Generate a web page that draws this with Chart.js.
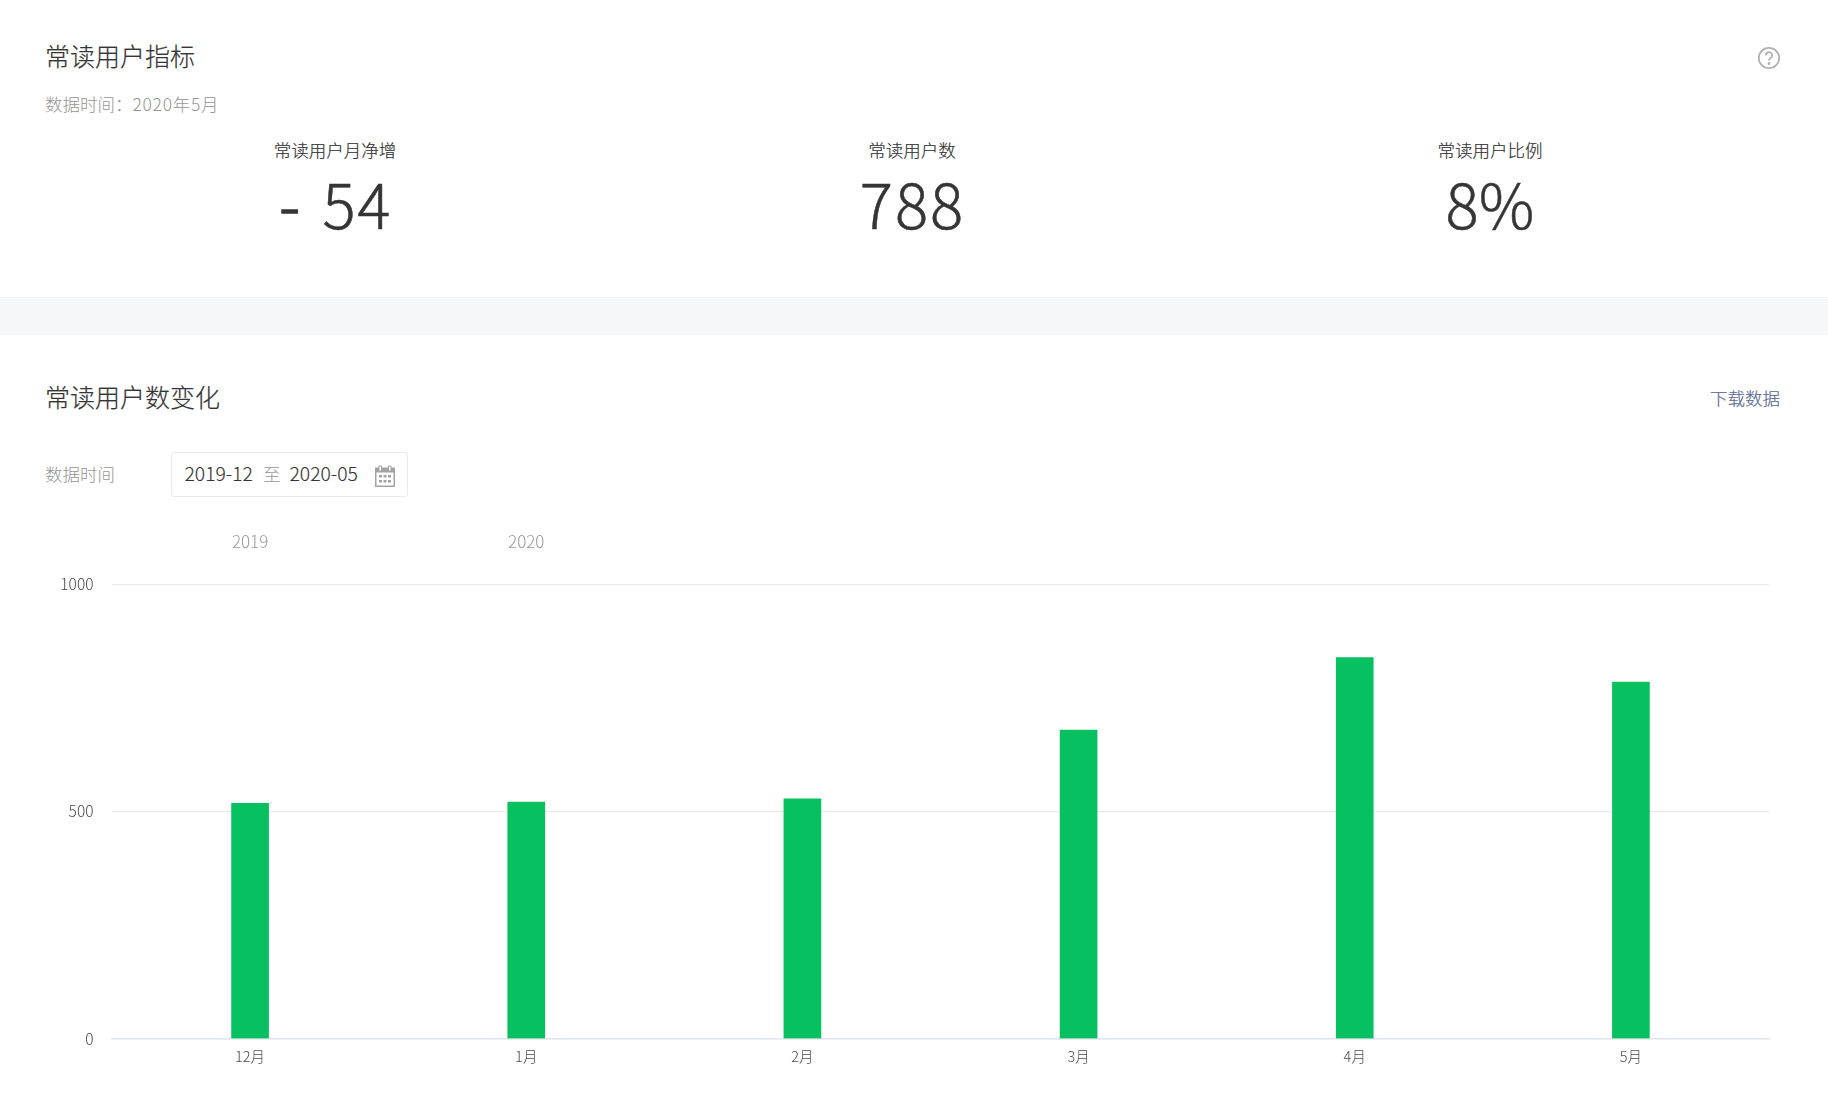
<!DOCTYPE html>
<html lang="zh-CN">
<head>
<meta charset="utf-8">
<title>常读用户指标</title>
<script src="https://cdn.jsdelivr.net/npm/chart.js@4"></script>
<style>
html,body{margin:0;padding:0;background:#fff;width:1828px;height:1112px;overflow:hidden}
body{position:relative;font-family:"Noto Sans CJK SC","Noto Sans",sans-serif;font-weight:300;color:#353535}
.t{position:absolute;white-space:nowrap;line-height:1}
.c{transform:translateX(-50%)}
.title{font-size:25px;color:#353535;-webkit-text-stroke:.2px #353535}
.sub{font-size:17.5px;color:#959595}
.lab{font-size:17.5px;color:#353535;-webkit-text-stroke:.2px #353535}
.num{font-size:62px;color:#353535;-webkit-text-stroke:.5px #353535}
#band{position:absolute;left:0;right:0;top:297px;height:38px;background:#f6f7f9;border-top:1px solid #f1f2f4;box-sizing:border-box}
#date{position:absolute;left:171px;top:452px;width:237px;height:45px;border:1px solid #e9e9e9;border-radius:3px;box-sizing:border-box}
#wrap{position:absolute;left:0;top:520px;width:1828px;height:592px}
svg{position:absolute}
</style>
</head>
<body>
<div class="t title" style="left:45px;top:43px">常读用户指标</div>
<div class="t sub" style="left:45px;top:95px">数据时间：<span style="letter-spacing:.7px">2020年5月</span></div>
<div class="t lab c" style="left:335px;top:141px">常读用户月净增</div>
<div class="t lab c" style="left:912px;top:141px">常读用户数</div>
<div class="t lab c" style="left:1490px;top:141px">常读用户比例</div>
<div class="t num c" style="left:335.5px;top:171px;letter-spacing:1.5px;word-spacing:6px"><span style="-webkit-text-stroke:1.5px #353535">-</span> 54</div>
<div class="t num c" style="left:912.5px;top:171px;letter-spacing:2px">788</div>
<div class="t num c" style="left:1490px;top:171px">8%</div>
<svg style="left:1757px;top:46px" width="24" height="24" viewBox="0 0 24 24" fill="none" stroke="#b0b0b0" stroke-width="1.8"><circle cx="12" cy="12" r="10.2"/><path d="M8.8 9.4a3.2 3.2 0 1 1 4.9 2.7c-1.1.7-1.7 1.3-1.7 2.5"/><circle cx="12" cy="17.4" r=".6" fill="#b0b0b0"/></svg>
<div id="band"></div>
<div class="t title" style="left:45px;top:384px">常读用户数变化</div>
<div class="t" style="right:48px;top:389px;font-size:17.5px;color:#576b95;-webkit-text-stroke:.2px #576b95">下载数据</div>
<div class="t sub" style="left:45px;top:465px">数据时间</div>
<div id="date"></div>
<div class="t" style="left:184.5px;top:464px;font-size:19.3px;color:#353535;-webkit-text-stroke:.15px #353535">2019-12</div>
<div class="t" style="left:263px;top:465px;font-size:17.5px;color:#959595">至</div>
<div class="t" style="left:289.5px;top:464px;font-size:19.3px;color:#353535;-webkit-text-stroke:.15px #353535">2020-05</div>
<svg style="left:375px;top:464px" width="20" height="23" viewBox="0 0 20 23"><path d="M0 3.5h20V23H0z" fill="#a3a3a3"/><path d="M1.5 8.5h17V21.5h-17z" fill="#fff"/><path d="M4 2h2.5v5H4zM13.5 2h2.5v5h-2.5z" fill="#fff" stroke="#a3a3a3" stroke-width="1"/><path d="M4 11h3v2.5H4zM8.5 11h3v2.5h-3zM13 11h3v2.5h-3zM4 16h3v2.5H4zM8.5 16h3v2.5h-3zM13 16h3v2.5h-3z" fill="#a3a3a3"/></svg>
<div id="wrap"><canvas id="chart"></canvas></div>
<script>
const categories = ['12月','1月','2月','3月','4月','5月'];
const yearLabels = ['2019','2020','','','',''];
const values = [518,521,528,679,839,785];
const yTicks = [0,500,1000];
const fam = '"Noto Sans CJK SC","Noto Sans",sans-serif';
const xFont = {family:fam,size:14.5,weight:'300'};
const yFont = {family:fam,size:15.5,weight:'300'};
const yearFont = {family:fam,size:17,weight:'300'};
new Chart(document.getElementById('chart'),{
  type:'bar',
  data:{labels:categories,datasets:[{data:values,backgroundColor:'#07c160',barThickness:37,xAxisID:'x',yAxisID:'y'}]},
  options:{
    responsive:true,maintainAspectRatio:false,animation:false,
    layout:{padding:{left:0,right:59,top:0,bottom:0}},
    plugins:{legend:{display:false},tooltip:{enabled:false},title:{display:false}},
    scales:{
      x:{position:'bottom',offset:true,grid:{display:false,drawTicks:false},
         border:{color:'#e1e5ef',width:1.5},
         ticks:{color:'#4a4a4a',font:xFont,padding:9.5,maxRotation:0,autoSkip:false},
         afterFit:s=>{s.height=73.3}},
      x2:{type:'category',labels:yearLabels,position:'top',offset:true,grid:{display:false,drawTicks:false},
         border:{display:false},
         ticks:{color:'#9a9a9a',font:yearFont,padding:33,maxRotation:0,autoSkip:false},
         afterFit:s=>{s.height=64.3}},
      y:{min:0,max:1000,
         afterBuildTicks:s=>{s.ticks=yTicks.map(v=>({value:v}))},
         grid:{color:'#e9e9e9',lineWidth:1.2,drawTicks:false},
         border:{display:false},
         ticks:{color:'#4a4a4a',font:yFont,padding:18.5,callback:v=>String(v)},
         afterFit:s=>{s.width=112}}
    }
  }
});
</script>
</body>
</html>
